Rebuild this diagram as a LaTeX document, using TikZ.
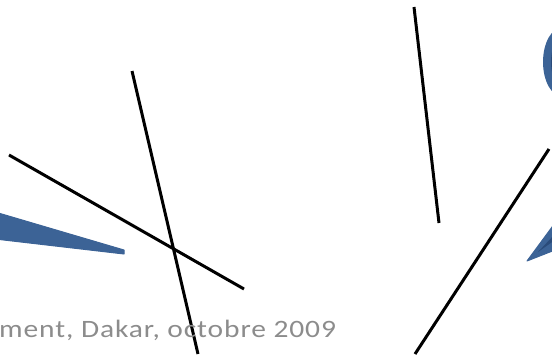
\documentclass[tikz,border=0pt]{standalone}
\usepackage{fontspec}
\setmainfont{Carlito}
\newfontfamily\captionfont[LetterSpace=3]{Carlito}
\definecolor{wblue}{HTML}{3C6396}
\definecolor{dblue}{HTML}{2A4B7A}
\definecolor{tgray}{HTML}{8C8C8C}
\tikzset{stroke/.style={line width=3pt,black},
  wedge/.style={fill=wblue,draw=wblue,line width=1pt,line join=round}}
\begin{document}
\begin{tikzpicture}[x=1pt,y=-1pt]
\useasboundingbox (0,0) rectangle (552,354);
\clip (0,0) rectangle (552,354);
% left wedge
\fill[wedge] (-5,212) -- (124,250) -- (124,254) -- (-5,239) -- cycle;
% top-right crescent
\fill[wblue] (563,62) ellipse[x radius=20, y radius=35];
\fill[dblue] (568,62) ellipse[x radius=17, y radius=30];
% bottom-right wedge
\fill[wedge] (527,261) -- (555,223) -- (555,250) -- cycle;
\fill[dblue] (538,252) -- (555,234) -- (555,240) -- cycle;
% black lines
\coordinate (a1) at (9,155); \coordinate (a2) at (244,289);
\coordinate (b1) at (132,71); \coordinate (b2) at (198,354);
\coordinate (c1) at (414,7); \coordinate (c2) at (439,223);
\coordinate (d1) at (549,149); \coordinate (d2) at (415,354);
\draw[stroke] (a1) -- (a2);
\draw[stroke] (b1) -- (b2);
\draw[stroke] (c1) -- (c2);
\draw[stroke] (d1) -- (d2);
\node[anchor=base west, inner sep=0pt, text=tgray] (t) at (-1,337) {\scalebox{1.18}[1]{\captionfont\fontsize{25}{29}\selectfont ment, Dakar, octobre 2009}};
\end{tikzpicture}
\end{document}
